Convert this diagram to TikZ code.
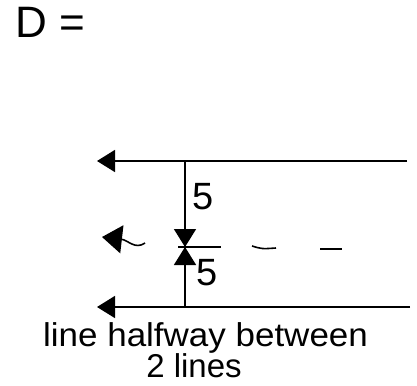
\documentclass[tikz,border=0pt]{standalone}
\usepackage{fontspec}
\setmainfont{Liberation Sans}
\usetikzlibrary{arrows.meta}
\begin{document}
\begin{tikzpicture}[x=1pt,y=-1pt,
  ln/.style={line width=1.6pt,black},
  tip/.style={-{Triangle[length=18pt,width=22pt]}},
  lbl/.style={inner sep=0pt,font=\fontsize{33}{33}\selectfont}]
\useasboundingbox (0,0) rectangle (417,385);
% coordinates
\coordinate (tr) at (407,161);
\coordinate (tl) at (97,161);
\coordinate (br) at (410,307);
\coordinate (bl) at (97,307);
\coordinate (vt) at (185,161);
\coordinate (vb) at (185,307);
\coordinate (mid) at (185,247);
\coordinate (hl) at (178,247);
\coordinate (hr) at (221,247);
\coordinate (d1a) at (252,246);
\coordinate (d1b) at (276,248);
\coordinate (d2a) at (320,249);
\coordinate (d2b) at (342,249);
\coordinate (ct) at (145,243);
\coordinate (ch) at (102,237);
% lines
\draw[ln,tip] (tr) -- (tl);
\draw[ln,tip] (br) -- (bl);
\draw[ln,tip] (vt) -- (mid);
\draw[ln,tip] (vb) -- (mid);
\draw[ln] (hl) -- (hr);
\draw[ln] (d1a) .. controls (262,249) .. (d1b);
\draw[ln] (d2a) -- (d2b);
\draw[ln,-{Triangle[length=20pt,width=28pt]}] (ct) .. controls (135,250) and (128,240) .. (ch);
% labels
\node[lbl,font=\fontsize{38}{38}\selectfont] (five1) at (203,197) {5};
\node[lbl,font=\fontsize{38}{38}\selectfont] (five2) at (207,273) {5};
\node[lbl,anchor=west,font=\fontsize{44}{44}\selectfont] (D) at (15,22) {D =};
\node[lbl,anchor=west] (t1) at (43,338) {\scalebox{1.06}[1]{line halfway between}};
\node[lbl] (t2) at (194,366) {2 lines};
\end{tikzpicture}
\end{document}
